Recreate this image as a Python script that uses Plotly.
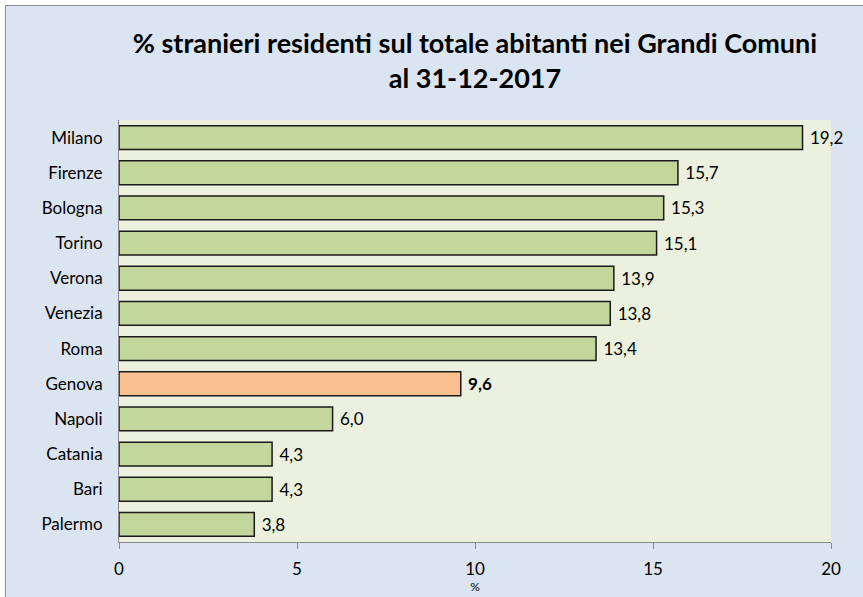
import plotly.graph_objects as go

cities = ["Milano", "Firenze", "Bologna", "Torino", "Verona", "Venezia", "Roma",
          "Genova", "Napoli", "Catania", "Bari", "Palermo"]
values = [19.2, 15.7, 15.3, 15.1, 13.9, 13.8, 13.4, 9.6, 6.0, 4.3, 4.3, 3.8]
highlight = "Genova"
x_ticks = [0, 5, 10, 15, 20]

W, H = 863, 597
L, R, T, B = 119, 32, 120, 55
pw, ph = W - L - R, H - T - B

def px(xp):
    return (xp - L) / pw

def py(yp):
    return (H - B - yp) / ph

colors = ["#fac090" if c == highlight else "#c3d69b" for c in cities]
labels = []
for c, v in zip(cities, values):
    s = f"{v:.1f}".replace(".", ",")
    labels.append("\u00a0" + (f"<b>{s}</b>" if c == highlight else s))

FONT = "Lato, Carlito, Calibri, sans-serif"

fig = go.Figure(go.Bar(
    y=cities, x=values, orientation="h",
    marker=dict(color=colors, line=dict(color="#1a1a1a", width=1.5)),
    text=labels, textposition="outside", cliponaxis=False,
    textfont=dict(family=FONT, size=17, color="#000000"),
    hoverinfo="skip",
))

fig.update_layout(
    width=W, height=H,
    margin=dict(l=L, r=R, t=T, b=B),
    paper_bgcolor="#dbe5f1",
    plot_bgcolor="#ebf0df",
    bargap=0.32,
    showlegend=False,
    font=dict(family=FONT, size=17, color="#000000"),
    title=dict(
        text="% stranieri residenti sul totale abitanti nei Grandi Comuni<br>al 31-12-2017",
        x=px(475), xref="paper", xanchor="center",
        y=1 - 53 / H, yref="container", yanchor="middle",
        font=dict(family=FONT, size=27, color="#000000", weight="bold"),
    ),
    xaxis=dict(
        range=[0, 20], tickvals=x_ticks, showgrid=False, zeroline=False,
        showline=True, linecolor="#888888", linewidth=1,
        ticks="outside", ticklen=6, tickcolor="#888888",
        ticklabelstandoff=6,
        tickfont=dict(family=FONT, size=17),
        title=dict(text="%", font=dict(family=FONT, size=12), standoff=2),
        automargin=False,
    ),
    yaxis=dict(
        categoryorder="array", categoryarray=cities, autorange="reversed",
        showgrid=False, zeroline=False,
        showline=True, linecolor="#888888", linewidth=1,
        ticks="", ticklabelstandoff=12,
        tickfont=dict(family=FONT, size=17),
        automargin=False,
    ),
    shapes=[
        dict(type="rect", xref="paper", yref="paper", x0=px(-5), x1=px(5), y0=py(-5), y1=py(H + 5),
             fillcolor="#ffffff", line=dict(width=0), layer="below"),
        dict(type="rect", xref="paper", yref="paper", x0=px(-5), x1=px(W + 5), y0=py(-5), y1=py(5),
             fillcolor="#ffffff", line=dict(width=0), layer="below"),
        dict(type="rect", xref="paper", yref="paper", x0=px(5.5), x1=px(W + 10), y0=py(5.5), y1=py(H + 10),
             fillcolor="rgba(0,0,0,0)", line=dict(color="#8c8c8c", width=1), layer="below"),
    ],
)

fig.write_html(
    "out.html",
    config={"displayModeBar": False},
    post_script="document.body.style.margin='0';document.body.style.overflow='hidden';",
)
